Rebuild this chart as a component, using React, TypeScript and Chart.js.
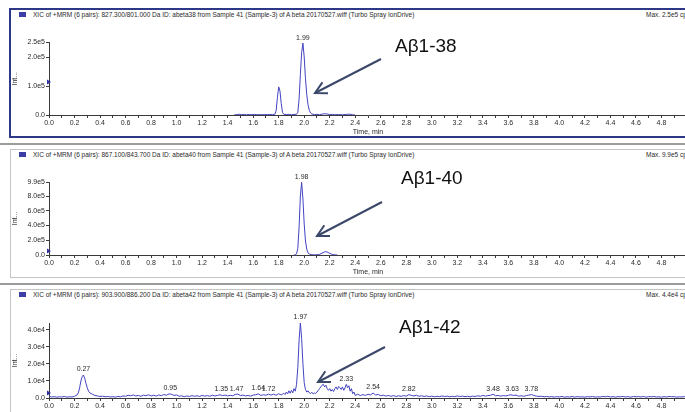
import React, { useEffect, useRef } from 'react';
import { Chart, registerables } from 'chart.js';

Chart.register(...registerables);

// ---------- DATA ----------
// [time (min), intensity (cps)]
const abeta38Trace: [number, number][] = [
  [1.45, 0], [1.47, 1500], [1.49, 2500], [1.51, 1200], [1.53, 2000], [1.55, 800], [1.57, 1800],
  [1.59, 1000], [1.61, 2200], [1.63, 900], [1.65, 1600], [1.67, 700], [1.69, 1900], [1.71, 1100],
  [1.73, 2000], [1.75, 1200], [1.77, 2500], [1.78, 15000], [1.79, 60000], [1.80, 97000], [1.81, 83000],
  [1.82, 40000], [1.83, 9000], [1.84, 2500], [1.86, 1500], [1.88, 2200], [1.90, 1000], [1.92, 1800],
  [1.94, 2500], [1.95, 9000], [1.96, 55000], [1.97, 140000], [1.98, 215000], [1.99, 248000],
  [2.00, 200000], [2.01, 125000], [2.02, 70000], [2.03, 35000], [2.04, 16000], [2.05, 7000],
  [2.06, 3500], [2.08, 1500], [2.10, 2200], [2.12, 1200], [2.14, 3000], [2.16, 4500], [2.18, 3500],
  [2.20, 1500], [2.22, 2300], [2.24, 900], [2.27, 1700], [2.30, 800], [2.33, 2000], [2.36, 2800],
  [2.38, 900], [2.40, 0],
];
const abeta38PeakTimes = [1.99];
const abeta38PeakHeights = [248000];
const abeta38YTicks = [0, 1e5, 2e5, 2.5e5];
const abeta38Max = 2.5e5;

const abeta40Trace: [number, number][] = [
  [1.92, 0], [1.93, 3000], [1.94, 15000], [1.95, 90000], [1.96, 380000], [1.97, 800000], [1.98, 985000],
  [1.99, 760000], [2.00, 420000], [2.01, 190000], [2.02, 80000], [2.03, 30000], [2.04, 12000],
  [2.06, 4000], [2.08, 2000], [2.10, 3000], [2.12, 8000], [2.14, 25000], [2.16, 42000], [2.17, 45000],
  [2.18, 40000], [2.20, 22000], [2.22, 8000], [2.24, 2000], [2.26, 0],
];
const abeta40PeakTimes = [1.98];
const abeta40PeakHeights = [985000];
const abeta40YTicks = [0, 2e5, 4e5, 6e5, 8e5, 9.9e5];
const abeta40Max = 9.9e5;

const abeta42Trace: [number, number][] = [
  [0.00, 900], [0.02, 600], [0.04, 800], [0.06, 500], [0.08, 700], [0.10, 600], [0.12, 900], [0.14, 500],
  [0.16, 700], [0.18, 600], [0.20, 1000], [0.22, 1800], [0.23, 3000], [0.24, 6000], [0.25, 10000],
  [0.26, 12500], [0.27, 13500], [0.28, 11500], [0.29, 8500], [0.30, 6000], [0.31, 4000], [0.32, 3000],
  [0.34, 2200], [0.36, 1500], [0.38, 1200], [0.40, 900], [0.42, 1100], [0.44, 700], [0.46, 900],
  [0.48, 600], [0.50, 800], [0.52, 500], [0.54, 900], [0.56, 700], [0.58, 1200], [0.60, 1000],
  [0.62, 1600], [0.64, 1300], [0.66, 1800], [0.68, 1200], [0.70, 1500], [0.72, 1000], [0.74, 1700],
  [0.76, 1300], [0.78, 1900], [0.80, 1200], [0.82, 1600], [0.84, 1100], [0.86, 1800], [0.88, 1400],
  [0.90, 2000], [0.92, 1600], [0.94, 2400], [0.96, 2200], [0.98, 1500], [1.00, 1800], [1.02, 1000],
  [1.04, 1300], [1.06, 800], [1.08, 1200], [1.10, 900], [1.12, 1400], [1.14, 1000], [1.16, 1300],
  [1.18, 900], [1.20, 1500], [1.22, 1100], [1.24, 1400], [1.26, 1000], [1.28, 1600], [1.30, 1200],
  [1.32, 1500], [1.34, 1900], [1.36, 1400], [1.38, 1700], [1.40, 1200], [1.42, 1600], [1.44, 1300],
  [1.46, 2100], [1.48, 2300], [1.50, 1400], [1.52, 1700], [1.54, 1200], [1.56, 1500], [1.58, 1100],
  [1.60, 1700], [1.62, 1900], [1.64, 2400], [1.66, 1500], [1.68, 1900], [1.70, 1600], [1.72, 2300],
  [1.74, 1700], [1.76, 2200], [1.78, 1600], [1.80, 2500], [1.82, 1800], [1.84, 2800], [1.85, 2000],
  [1.86, 3500], [1.87, 2400], [1.88, 4200], [1.89, 2800], [1.90, 4500], [1.91, 3000], [1.92, 5500],
  [1.93, 4000], [1.94, 8000], [1.95, 18000], [1.96, 34000], [1.97, 44000], [1.98, 35000], [1.99, 20000],
  [2.00, 9000], [2.01, 5000], [2.02, 3500], [2.03, 4200], [2.04, 3000], [2.05, 2600], [2.06, 3400],
  [2.07, 2400], [2.08, 3000], [2.09, 2600], [2.10, 3500], [2.11, 4500], [2.12, 5500], [2.13, 6500],
  [2.14, 7500], [2.15, 8000], [2.16, 6500], [2.17, 7500], [2.18, 5500], [2.19, 4500], [2.20, 5500],
  [2.21, 4000], [2.22, 5000], [2.23, 3800], [2.24, 5500], [2.25, 6500], [2.26, 5000], [2.27, 6800],
  [2.28, 6000], [2.29, 5000], [2.30, 6500], [2.31, 4500], [2.32, 6000], [2.33, 8000], [2.34, 6000],
  [2.35, 7200], [2.36, 4000], [2.37, 5500], [2.38, 2500], [2.39, 3500], [2.40, 1500], [2.42, 2200],
  [2.44, 1400], [2.46, 2000], [2.48, 1500], [2.50, 2200], [2.52, 1800], [2.54, 2900], [2.56, 1700],
  [2.58, 2100], [2.60, 1300], [2.62, 1700], [2.64, 1100], [2.66, 1500], [2.68, 1000], [2.70, 1400],
  [2.72, 900], [2.74, 1300], [2.76, 1000], [2.78, 1400], [2.80, 1100], [2.82, 2000], [2.84, 1500],
  [2.86, 1200], [2.88, 1600], [2.90, 1000], [2.92, 1300], [2.94, 900], [2.96, 1200], [2.98, 800],
  [3.00, 1100], [3.02, 700], [3.04, 1000], [3.06, 800], [3.08, 1200], [3.10, 900], [3.12, 1100],
  [3.14, 700], [3.16, 1000], [3.18, 800], [3.20, 1200], [3.22, 900], [3.24, 1100], [3.26, 800],
  [3.28, 1000], [3.30, 700], [3.32, 1100], [3.34, 900], [3.36, 1300], [3.38, 1000], [3.40, 1500],
  [3.42, 1100], [3.44, 1400], [3.46, 1600], [3.48, 2200], [3.50, 1300], [3.52, 1500], [3.54, 1100],
  [3.56, 1400], [3.58, 1200], [3.60, 1600], [3.62, 1900], [3.64, 1500], [3.66, 1700], [3.68, 1100],
  [3.70, 1300], [3.72, 1000], [3.74, 1400], [3.76, 1700], [3.78, 2000], [3.80, 1500], [3.82, 1100],
  [3.84, 900], [3.86, 1000], [3.88, 700], [3.90, 900], [3.92, 600], [3.94, 800], [3.96, 500],
  [3.98, 800], [4.00, 600], [4.02, 900], [4.04, 500], [4.06, 700], [4.08, 600], [4.10, 900],
  [4.12, 500], [4.14, 800], [4.16, 600], [4.18, 700], [4.20, 500], [4.22, 800], [4.24, 600],
  [4.26, 900], [4.28, 500], [4.30, 700], [4.32, 600], [4.34, 900], [4.36, 700], [4.38, 1000],
  [4.40, 600], [4.42, 800], [4.44, 500], [4.46, 800], [4.48, 700], [4.50, 900], [4.52, 600],
  [4.54, 800], [4.56, 500], [4.58, 900], [4.60, 700], [4.62, 800], [4.64, 600], [4.66, 900],
  [4.68, 500], [4.70, 800], [4.72, 700], [4.74, 900], [4.76, 600], [4.78, 700], [4.80, 500],
  [4.82, 800], [4.84, 600], [4.86, 900], [4.88, 700], [4.90, 800], [4.92, 500], [4.94, 700],
  [4.96, 600], [4.98, 800], [5.00, 600],
];
const abeta42PeakTimes = [0.27, 0.95, 1.35, 1.47, 1.64, 1.72, 1.97, 2.33, 2.54, 2.82, 3.48, 3.63, 3.78];
const abeta42PeakHeights = [13500, 2400, 1900, 2300, 2400, 2300, 44000, 8000, 2900, 2000, 2200, 1900, 2000];
const abeta42YTicks = [0, 1e4, 2e4, 3e4, 4e4];
const abeta42Max = 4.4e4;

const headerTexts = [
  'XIC of +MRM (6 pairs): 827.300/801.000 Da ID: abeta38 from Sample 41 (Sample-3) of A beta 20170527.wiff (Turbo Spray IonDrive)',
  'XIC of +MRM (6 pairs): 867.100/843.700 Da ID: abeta40 from Sample 41 (Sample-3) of A beta 20170527.wiff (Turbo Spray IonDrive)',
  'XIC of +MRM (6 pairs): 903.900/886.200 Da ID: abeta42 from Sample 41 (Sample-3) of A beta 20170527.wiff (Turbo Spray IonDrive)',
];
const maxTexts = ['Max. 2.5e5 cps.', 'Max. 9.9e5 cps.', 'Max. 4.4e4 cps.'];
const analyteNames = ['Aβ1-38', 'Aβ1-40', 'Aβ1-42'];

// ---------- STYLE ----------
const FONT = '"Liberation Sans", Arial, sans-serif';
const TRACE = '#4343c2';
const AXIS = '#3a3a3a';
const TEXT = '#2a2a2a';

function fmtSci(v: number): string {
  if (v === 0) return '0.0';
  const e = Math.floor(Math.log10(v) + 1e-9);
  return (v / Math.pow(10, e)).toFixed(1) + 'e' + e;
}

const peakLabelPlugin = {
  id: 'peakLabels',
  afterDatasetsDraw(chart: any, _args: any, opts: any) {
    const { ctx } = chart;
    const x = chart.scales.x;
    const y = chart.scales.y;
    const times: number[] = opts.times || [];
    const heights: number[] = opts.heights || [];
    ctx.save();
    ctx.font = '7px ' + FONT;
    ctx.fillStyle = TEXT;
    ctx.textAlign = 'center';
    ctx.textBaseline = 'bottom';
    times.forEach((t, i) => {
      ctx.fillText(t.toFixed(2), x.getPixelForValue(t), y.getPixelForValue(heights[i]) - 2);
    });
    ctx.restore();
  },
};

interface PanelSpec {
  trace: [number, number][];
  peakTimes: number[];
  peakHeights: number[];
  yTicks: number[];
  yMax: number;
  canvasTop: number;
  canvasHeight: number;
  padTop: number;
}

function ChromPanel({ spec }: { spec: PanelSpec }) {
  const ref = useRef<HTMLCanvasElement>(null);
  useEffect(() => {
    const tickFont = { family: FONT, size: 7 };
    const chart = new Chart(ref.current as HTMLCanvasElement, {
      type: 'line',
      data: {
        datasets: [
          {
            data: spec.trace.map(([x, y]) => ({ x, y })),
            borderColor: TRACE,
            borderWidth: 1,
            pointRadius: 0,
            tension: 0,
            fill: false,
          },
        ],
      },
      options: {
        responsive: false,
        animation: false,
        devicePixelRatio: 1,
        layout: { padding: { left: 10, right: 13, top: spec.padTop, bottom: 0 } },
        plugins: {
          legend: { display: false },
          tooltip: { enabled: false },
          // @ts-ignore
          peakLabels: { times: spec.peakTimes, heights: spec.peakHeights },
        },
        scales: {
          x: {
            type: 'linear',
            min: 0,
            max: 5,
            afterFit: (s: any) => {
              s.height = 23;
            },
            ticks: {
              stepSize: 0.1,
              autoSkip: false,
              maxRotation: 0,
              minRotation: 0,
              padding: 1,
              color: TEXT,
              font: tickFont,
              callback: (value: any) => {
                const k = Math.round(Number(value) * 10);
                return k % 2 === 0 && k <= 48 ? (k / 10).toFixed(1) : '';
              },
            },
            grid: { drawOnChartArea: false, drawTicks: true, tickLength: 3, color: AXIS },
            border: { display: true, color: AXIS },
            title: { display: true, text: 'Time, min', color: TEXT, font: tickFont, padding: { top: 0, bottom: 2 } },
          },
          y: {
            min: 0,
            max: spec.yMax,
            afterFit: (s: any) => {
              s.width = 39;
            },
            afterBuildTicks: (s: any) => {
              s.ticks = spec.yTicks.map((v) => ({ value: v }));
            },
            ticks: {
              padding: 1,
              color: TEXT,
              font: tickFont,
              callback: (value: any) => fmtSci(Number(value)),
            },
            grid: { drawOnChartArea: false, drawTicks: true, tickLength: 3, color: AXIS },
            border: { display: true, color: AXIS },
            title: { display: true, text: 'Int...', color: TEXT, font: tickFont, padding: { top: 1, bottom: 0 } },
          },
        },
      } as any,
      plugins: [peakLabelPlugin],
    });
    return () => chart.destroy();
  }, []);
  return (
    <canvas
      ref={ref}
      width={700}
      height={spec.canvasHeight}
      style={{ position: 'absolute', left: 0, top: spec.canvasTop, width: 700, height: spec.canvasHeight }}
    />
  );
}

const panels: PanelSpec[] = [
  {
    trace: abeta38Trace, peakTimes: abeta38PeakTimes, peakHeights: abeta38PeakHeights,
    yTicks: abeta38YTicks, yMax: abeta38Max, canvasTop: 20, canvasHeight: 118, padTop: 22.5,
  },
  {
    trace: abeta40Trace, peakTimes: abeta40PeakTimes, peakHeights: abeta40PeakHeights,
    yTicks: abeta40YTicks, yMax: abeta40Max, canvasTop: 160, canvasHeight: 118, padTop: 22,
  },
  {
    trace: abeta42Trace, peakTimes: abeta42PeakTimes, peakHeights: abeta42PeakHeights,
    yTicks: abeta42YTicks, yMax: abeta42Max, canvasTop: 301, canvasHeight: 120, padTop: 22,
  },
];

const headerY = [12, 152, 292];
const annot = [
  { tx: 395, ty: 52, x1: 381, y1: 59, x2: 315, y2: 93 },
  { tx: 401, ty: 184, x1: 382, y1: 202, x2: 317, y2: 236 },
  { tx: 399, ty: 333, x1: 385, y1: 347, x2: 318, y2: 382 },
];
const markerY = [82, 251, 393];

function arrowWings(x1: number, y1: number, x2: number, y2: number) {
  const dx = x1 - x2;
  const dy = y1 - y2;
  const len = Math.hypot(dx, dy);
  const ux = dx / len;
  const uy = dy / len;
  const L = 13;
  const a = (28 * Math.PI) / 180;
  const w1 = [x2 + L * (ux * Math.cos(a) - uy * Math.sin(a)), y2 + L * (ux * Math.sin(a) + uy * Math.cos(a))];
  const w2 = [x2 + L * (ux * Math.cos(-a) - uy * Math.sin(-a)), y2 + L * (ux * Math.sin(-a) + uy * Math.cos(-a))];
  return `M${w1[0]},${w1[1]} L${x2},${y2} L${w2[0]},${w2[1]}`;
}

export default function App() {
  return (
    <div
      style={{
        position: 'absolute', left: 0, top: 0, width: 685, height: 412, overflow: 'hidden',
        background: '#ffffff', fontFamily: FONT,
      }}
    >
      {/* Panel 1 frame (selected) */}
      <div style={{ position: 'absolute', left: 9, top: 8, width: 700, height: 130, border: '2px solid #2d3886', boxSizing: 'border-box' }} />
      {/* Panel 2 frame */}
      <div style={{ position: 'absolute', left: 0, top: 143, width: 700, height: 2, background: '#9c9c9c' }} />
      <div style={{ position: 'absolute', left: 10, top: 149, width: 700, height: 129, border: '1px solid #c4c4c4', boxSizing: 'border-box' }} />
      {/* Panel 3 frame */}
      <div style={{ position: 'absolute', left: 0, top: 283, width: 700, height: 2, background: '#9c9c9c' }} />
      <div style={{ position: 'absolute', left: 10, top: 289, width: 700, height: 140, border: '1px solid #c4c4c4', boxSizing: 'border-box' }} />

      {headerY.map((y, i) => (
        <React.Fragment key={'h' + i}>
          <div style={{ position: 'absolute', left: 19, top: y, width: 7, height: 5, background: '#3d3da6' }} />
          <div style={{ position: 'absolute', left: 33, top: y - 1, fontSize: 6.5, lineHeight: '8px', color: TEXT, whiteSpace: 'nowrap' }}>
            {headerTexts[i]}
          </div>
          <div style={{ position: 'absolute', left: 646, top: y - 1, fontSize: 6.5, lineHeight: '8px', color: TEXT, whiteSpace: 'nowrap' }}>
            {maxTexts[i]}
          </div>
        </React.Fragment>
      ))}

      {panels.map((p, i) => (
        <ChromPanel key={'c' + i} spec={p} />
      ))}

      <svg width={685} height={412} style={{ position: 'absolute', left: 0, top: 0, pointerEvents: 'none' }}>
        {markerY.map((y, i) => (
          <path key={'m' + i} d={`M47,${y - 2.5} L51,${y} L47,${y + 2.5} Z`} fill="#2f2fa0" />
        ))}
        {annot.map((a, i) => (
          <g key={'a' + i}>
            <text x={a.tx} y={a.ty} fontFamily={FONT} fontSize={19} fill="#111">
              {analyteNames[i]}
            </text>
            <line x1={a.x1} y1={a.y1} x2={a.x2} y2={a.y2} stroke="#3b4869" strokeWidth={2} />
            <path d={arrowWings(a.x1, a.y1, a.x2, a.y2)} stroke="#3b4869" strokeWidth={2} fill="none" />
          </g>
        ))}
      </svg>
    </div>
  );
}
